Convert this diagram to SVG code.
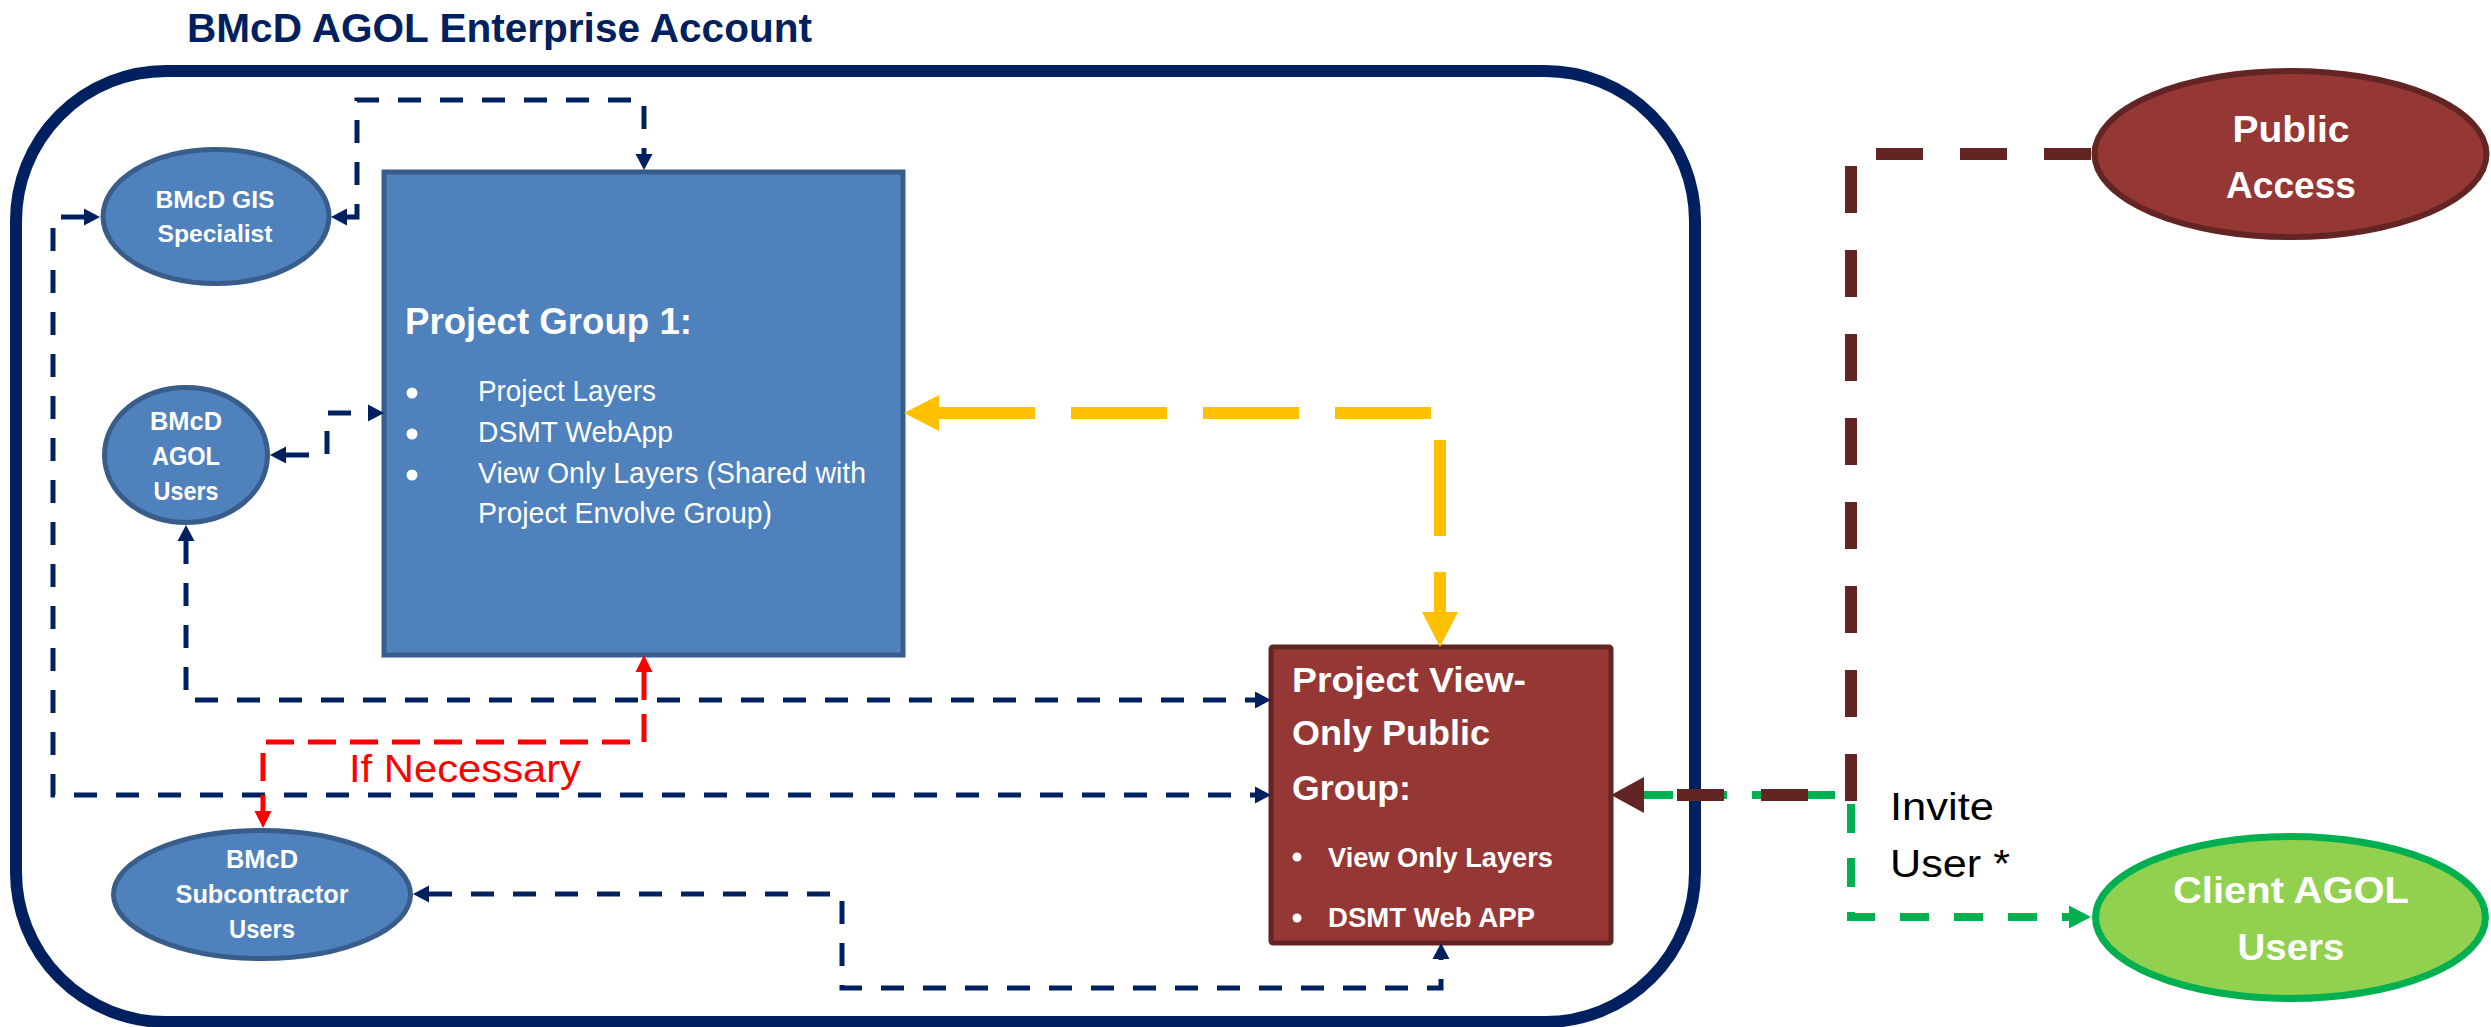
<svg xmlns="http://www.w3.org/2000/svg" width="2491" height="1027" viewBox="0 0 2491 1027">
<defs>
<style>
text{font-family:"Liberation Sans",Arial,sans-serif;}
.b{font-weight:bold;}
.w{fill:#FFFFFF;}
.m{text-anchor:middle;}
.blue{fill:#4F81BD;stroke:#385D8A;stroke-width:5;}
.red{fill:#953735;stroke:#632523;stroke-width:5;}
.c{fill:none;}
.navy{stroke:#002060;stroke-width:5;stroke-dasharray:23 19;}
.rd{stroke:#FF0000;stroke-width:5;stroke-dasharray:28 14;}
.yl{stroke:#FFC000;stroke-width:12;stroke-dasharray:96 36;}
.br{stroke:#632523;stroke-width:12;stroke-dasharray:47 37;}
.gr{stroke:#00B050;stroke-width:8;stroke-dasharray:29 25;}
</style>
<marker id="aN" markerUnits="userSpaceOnUse" markerWidth="16" markerHeight="17" refX="0" refY="8.5" orient="auto-start-reverse" overflow="visible"><path d="M0,0 L16,8.5 L0,17 Z" fill="#002060"/></marker>
<marker id="aR" markerUnits="userSpaceOnUse" markerWidth="17" markerHeight="17" refX="0" refY="8.5" orient="auto-start-reverse" overflow="visible"><path d="M0,0 L17,8.5 L0,17 Z" fill="#FF0000"/></marker>
<marker id="aY" markerUnits="userSpaceOnUse" markerWidth="35" markerHeight="36" refX="0" refY="18" orient="auto-start-reverse" overflow="visible"><path d="M0,0 L35,18 L0,36 Z" fill="#FFC000"/></marker>
<marker id="aB" markerUnits="userSpaceOnUse" markerWidth="33" markerHeight="36" refX="0" refY="18" orient="auto-start-reverse" overflow="visible"><path d="M0,0 L33,18 L0,36 Z" fill="#632523"/></marker>
<marker id="aG" markerUnits="userSpaceOnUse" markerWidth="22" markerHeight="23" refX="0" refY="11.5" orient="auto-start-reverse" overflow="visible"><path d="M0,0 L22,11.5 L0,23 Z" fill="#00B050"/></marker>
</defs>
<rect x="0" y="0" width="2491" height="1027" fill="#FFFFFF"/>
<g id="enterprise-account">
<rect x="16" y="71" width="1679" height="951" rx="150" ry="150" fill="none" stroke="#002060" stroke-width="12"/>
<text x="187" y="42" class="b" font-size="40" fill="#002060" textLength="625" lengthAdjust="spacingAndGlyphs">BMcD AGOL Enterprise Account</text>
</g>
<g id="gis-specialist">
<ellipse cx="216" cy="216.5" rx="113" ry="67" class="blue"/>
<text x="215" y="208" class="b w m" font-size="23" textLength="119" lengthAdjust="spacingAndGlyphs">BMcD GIS</text>
<text x="215" y="242" class="b w m" font-size="23" textLength="115" lengthAdjust="spacingAndGlyphs">Specialist</text>
</g>
<g id="agol-users">
<ellipse cx="186" cy="455" rx="81.5" ry="67.5" class="blue"/>
<text x="186" y="430" class="b w m" font-size="25" textLength="72" lengthAdjust="spacingAndGlyphs">BMcD</text>
<text x="186" y="465" class="b w m" font-size="25" textLength="68" lengthAdjust="spacingAndGlyphs">AGOL</text>
<text x="186" y="500" class="b w m" font-size="25" textLength="65" lengthAdjust="spacingAndGlyphs">Users</text>
</g>
<g id="subcontractor-users">
<ellipse cx="262" cy="894.5" rx="148.5" ry="64" class="blue"/>
<text x="262" y="868" class="b w m" font-size="25" textLength="72" lengthAdjust="spacingAndGlyphs">BMcD</text>
<text x="262" y="903" class="b w m" font-size="25" textLength="173" lengthAdjust="spacingAndGlyphs">Subcontractor</text>
<text x="262" y="938" class="b w m" font-size="25" textLength="66" lengthAdjust="spacingAndGlyphs">Users</text>
</g>
<g id="project-group-1">
<rect x="384" y="172" width="519" height="483" class="blue"/>
<text x="405" y="334" class="b w" font-size="36" textLength="287" lengthAdjust="spacingAndGlyphs">Project Group 1:</text>
<circle cx="412" cy="393" r="5.5" fill="#FFFFFF"/>
<circle cx="412" cy="434" r="5.5" fill="#FFFFFF"/>
<circle cx="412" cy="475" r="5.5" fill="#FFFFFF"/>
<text x="478" y="401" class="w" font-size="29" textLength="178" lengthAdjust="spacingAndGlyphs">Project Layers</text>
<text x="478" y="442" class="w" font-size="29" textLength="195" lengthAdjust="spacingAndGlyphs">DSMT WebApp</text>
<text x="478" y="483" class="w" font-size="29" textLength="388" lengthAdjust="spacingAndGlyphs">View Only Layers (Shared with</text>
<text x="478" y="523" class="w" font-size="29" textLength="294" lengthAdjust="spacingAndGlyphs">Project Envolve Group)</text>
</g>
<g id="view-only-public-group">
<rect x="1271" y="647" width="340" height="296" rx="2" class="red"/>
<text x="1292" y="692" class="b w" font-size="35" textLength="234" lengthAdjust="spacingAndGlyphs">Project View-</text>
<text x="1292" y="745" class="b w" font-size="35" textLength="198" lengthAdjust="spacingAndGlyphs">Only Public</text>
<text x="1292" y="800" class="b w" font-size="35" textLength="119" lengthAdjust="spacingAndGlyphs">Group:</text>
<circle cx="1297" cy="857" r="4.5" fill="#FFFFFF"/>
<circle cx="1297" cy="918" r="4.5" fill="#FFFFFF"/>
<text x="1328" y="867" class="b w" font-size="28" textLength="225" lengthAdjust="spacingAndGlyphs">View Only Layers</text>
<text x="1328" y="927" class="b w" font-size="28" textLength="207" lengthAdjust="spacingAndGlyphs">DSMT Web APP</text>
</g>
<g id="public-access">
<ellipse cx="2290.5" cy="154" rx="196" ry="83" fill="#953735" stroke="#632523" stroke-width="6"/>
<text x="2291" y="142" class="b w m" font-size="37" textLength="117" lengthAdjust="spacingAndGlyphs">Public</text>
<text x="2291" y="198" class="b w m" font-size="37" textLength="130" lengthAdjust="spacingAndGlyphs">Access</text>
</g>
<g id="client-agol-users">
<ellipse cx="2290.5" cy="917.5" rx="195" ry="81" fill="#92D050" stroke="#00B050" stroke-width="7"/>
<text x="2291" y="903" class="b w m" font-size="37" textLength="236" lengthAdjust="spacingAndGlyphs">Client AGOL</text>
<text x="2291" y="960" class="b w m" font-size="37" textLength="107" lengthAdjust="spacingAndGlyphs">Users</text>
</g>
<g id="connectors">
<path class="c navy" d="M347,217 H357 V100 H644 V154" marker-start="url(#aN)" marker-end="url(#aN)"/>
<path class="c navy" d="M84,217 H53 V795 H1255" marker-start="url(#aN)" marker-end="url(#aN)"/>
<path class="c navy" d="M286,455 H327 V413 H368" marker-start="url(#aN)" marker-end="url(#aN)"/>
<path class="c navy" d="M186,541 V700 H1255" marker-start="url(#aN)" marker-end="url(#aN)"/>
<path class="c navy" d="M429,894 H842 V988 H1441 V959" marker-start="url(#aN)" marker-end="url(#aN)"/>
<path class="c rd" d="M644,672 V742 H263 V811" marker-start="url(#aR)" marker-end="url(#aR)"/>
<text x="349" y="782" font-size="39" fill="#FF0000" textLength="232" lengthAdjust="spacingAndGlyphs">If Necessary</text>
<path class="c yl" d="M939,413 H1440 V612" marker-start="url(#aY)" marker-end="url(#aY)"/>
<path class="c gr" d="M1644,795 H1851 V917 H2069" marker-end="url(#aG)"/>
<path class="c br" d="M2091,154 H1851 V795 H1644" marker-end="url(#aB)"/>
<text x="1890" y="820" font-size="39" fill="#000000" textLength="104" lengthAdjust="spacingAndGlyphs">Invite</text>
<text x="1890" y="877" font-size="39" fill="#000000" textLength="120" lengthAdjust="spacingAndGlyphs">User *</text>
</g>
</svg>
